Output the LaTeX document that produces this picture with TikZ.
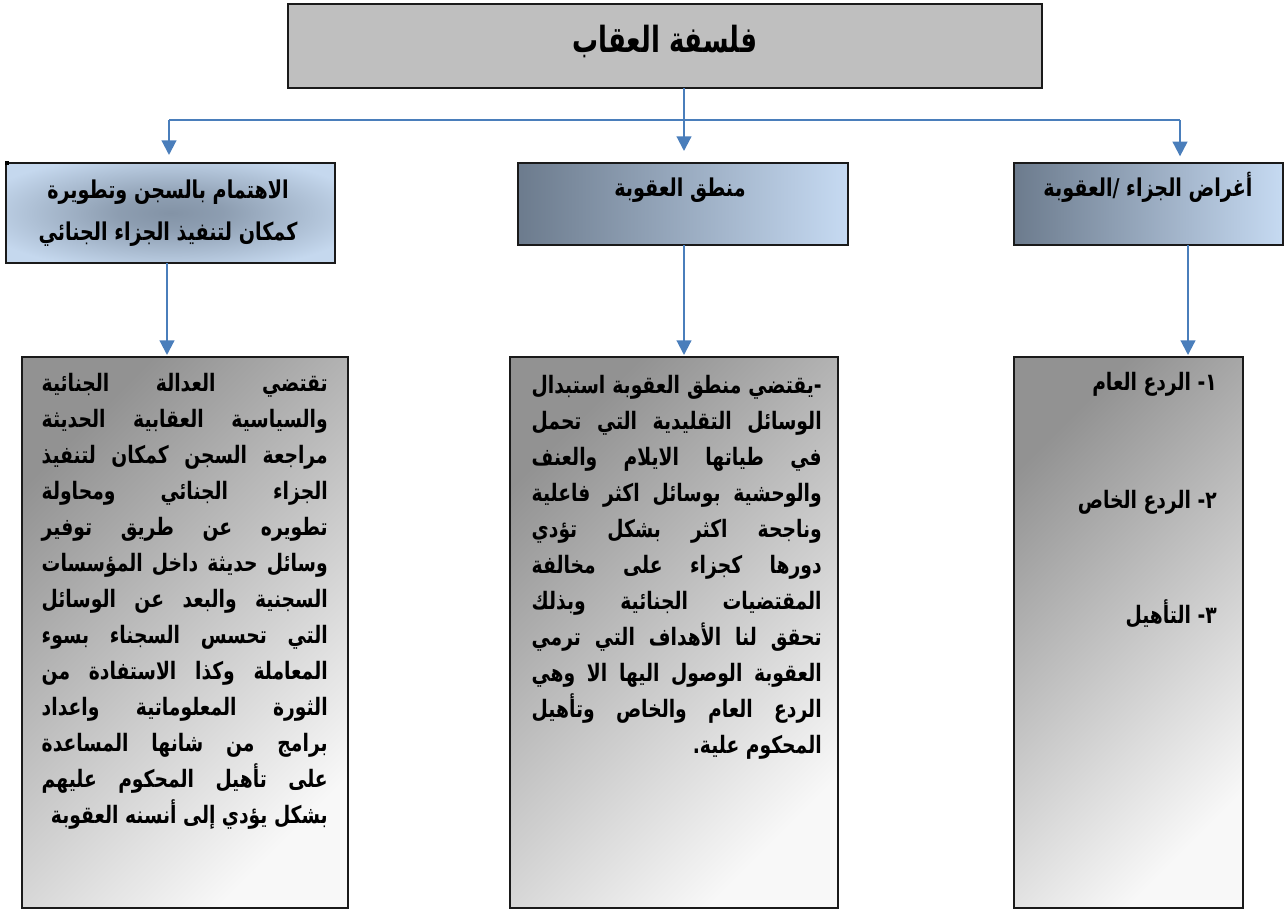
\documentclass[tikz,border=0pt]{standalone}
\usepackage{fontspec}
\usetikzlibrary{arrows.meta}
\TeXXeTstate=1
\newfontfamily\arabicfont[Script=Arabic,FakeStretch=0.78]{DejaVu Sans}
\newfontfamily\arabictitle[Script=Arabic,FakeStretch=0.72]{DejaVu Sans}
\definecolor{arrowblue}{HTML}{4A7EBB}
\definecolor{topgray}{HTML}{BFBFBF}
\definecolor{hdrdark}{HTML}{6C7B8D}
\definecolor{hdrlight}{HTML}{C6DAF2}
\definecolor{raddark}{HTML}{8393A6}
\definecolor{radlight}{HTML}{C5D8EE}
\definecolor{boxdark}{HTML}{929292}
\definecolor{boxlight}{HTML}{F8F8F8}
\definecolor{edge}{HTML}{1A1A1A}
\pgfdeclareradialshading{hdrrad}{\pgfpoint{0bp}{0bp}}{color(0bp)=(raddark); color(8bp)=(raddark!85!radlight); color(30bp)=(radlight); color(50bp)=(radlight)}
\newlength\lnw
\newcommand\Jl[1]{\hbox to \lnw{\beginR #1\endR}}
\newcommand\Rl[1]{\hbox to \lnw{\hfill\beginR #1\endR}}
\newcommand\Cl[1]{\hbox to \lnw{\hfill\beginR #1\endR\hfill}}
\begin{document}
\begin{tikzpicture}[x=0.75pt,y=-0.75pt,
  boxbase/.style={draw=edge, line width=1.4pt, inner sep=0pt, outer sep=0pt},
  titlebox/.style={boxbase, fill=topgray},
  hdrbox/.style={boxbase, left color=hdrdark, right color=hdrlight},
  radbox/.style={boxbase, shading=hdrrad},
  bodybox/.style={boxbase, top color=boxdark, bottom color=boxlight, shading angle=45},
  conn/.style={draw=arrowblue, line width=1.6pt},
  arr/.style={conn, -{Triangle[width=11pt,length=11pt]}},
  bodytext/.style={inner sep=0pt, font=\arabicfont\bfseries\fontsize{18}{27}\selectfont},
  hdrtext/.style={inner sep=0pt, font=\arabicfont\bfseries\fontsize{18.4}{32}\selectfont},
  titletext/.style={inner sep=0pt, font=\arabictitle\bfseries\fontsize{27}{30}\selectfont}]
\useasboundingbox (0,0) rectangle (1284,911);

% boxes
\node[titlebox, minimum width=565.5pt, minimum height=63pt] (top) at (665,46) {};
\node[radbox, minimum width=246.75pt, minimum height=75pt] (hl) at (170.5,213) {};
\node[hdrbox, minimum width=247.5pt, minimum height=61.5pt] (hm) at (683,204) {};
\node[hdrbox, minimum width=201.75pt, minimum height=61.5pt] (hr) at (1148.5,204) {};
\node[bodybox, minimum width=244.5pt, minimum height=413.25pt] (bl) at (185,632.5) {};
\node[bodybox, minimum width=246pt, minimum height=413.25pt] (bm) at (674,632.5) {};
\node[bodybox, minimum width=171.75pt, minimum height=413.25pt] (br) at (1128.5,632.5) {};
\fill[black] (5,161) rectangle (9,165);

% connectors
\coordinate (j) at (684,120);
\coordinate (jl) at (169,120);
\coordinate (jr) at (1180,120);
\draw[conn] (top.south -| j) -- (j);
\draw[conn] (jl) -- (jr);
\draw[arr, shorten >=6pt] (jl) -- (hl.north -| jl);
\draw[arr, shorten >=9pt] (j) -- (hm.north -| j);
\draw[arr, shorten >=5pt] (jr) -- (hr.north -| jr);
\coordinate (cl) at (167,0);
\coordinate (cm) at (684,0);
\coordinate (cr) at (1188,0);
\draw[arr, shorten >=1.5pt] (hl.south -| cl) -- (bl.north -| cl);
\draw[arr, shorten >=1.5pt] (hm.south -| cm) -- (bm.north -| cm);
\draw[arr, shorten >=1.5pt] (hr.south -| cr) -- (br.north -| cr);

% texts
\node[titletext, anchor=base] (tt) at (665,52) {\beginR فلسفة العقاب\endR};
\node[hdrtext, anchor=base] (thl) at (168,198) {\lnw=230pt\vtop{\Cl{الاهتمام بالسجن وتطويرة}\Cl{كمكان لتنفيذ الجزاء الجنائي}}};
\node[hdrtext, anchor=base] (thm) at (680,196) {\beginR منطق العقوبة\endR};
\node[hdrtext, anchor=base] (thr) at (1148,196) {\beginR أغراض الجزاء /\kern0pt العقوبة\endR};

\node[bodytext, anchor=base east] (tbl) at (328,391) {\lnw=214.5pt\vtop{%
\Jl{تقتضي العدالة الجنائية}
\Jl{والسياسية العقابية الحديثة}
\Jl{مراجعة السجن كمكان لتنفيذ}
\Jl{الجزاء الجنائي ومحاولة}
\Jl{تطويره عن طريق توفير}
\Jl{وسائل حديثة داخل المؤسسات}
\Jl{السجنية والبعد عن الوسائل}
\Jl{التي تحسس السجناء بسوء}
\Jl{المعاملة وكذا الاستفادة من}
\Jl{الثورة المعلوماتية واعداد}
\Jl{برامج من شانها المساعدة}
\Jl{على تأهيل المحكوم عليهم}
\Rl{بشكل يؤدي إلى أنسنه العقوبة}}};

\node[bodytext, anchor=base east] (tbm) at (822,393) {\lnw=217.5pt\vtop{%
\Jl{-\kern0pt يقتضي منطق العقوبة استبدال}
\Jl{الوسائل التقليدية التي تحمل}
\Jl{في طياتها الايلام والعنف}
\Jl{والوحشية بوسائل اكثر فاعلية}
\Jl{وناجحة اكثر بشكل تؤدي}
\Jl{دورها كجزاء على مخالفة}
\Jl{المقتضيات الجنائية وبذلك}
\Jl{تحقق لنا الأهداف التي ترمي}
\Jl{العقوبة الوصول اليها الا وهي}
\Jl{الردع العام والخاص وتأهيل}
\Rl{المحكوم علية\kern0pt .}}};

\node[bodytext, anchor=base east] (tr1) at (1217,390) {\beginR ١\kern0pt - الردع العام\endR};
\node[bodytext, anchor=base east] (tr2) at (1217,508) {\beginR ٢\kern0pt - الردع الخاص\endR};
\node[bodytext, anchor=base east] (tr3) at (1217,623) {\beginR ٣\kern0pt - التأهيل\endR};
\end{tikzpicture}
\end{document}
